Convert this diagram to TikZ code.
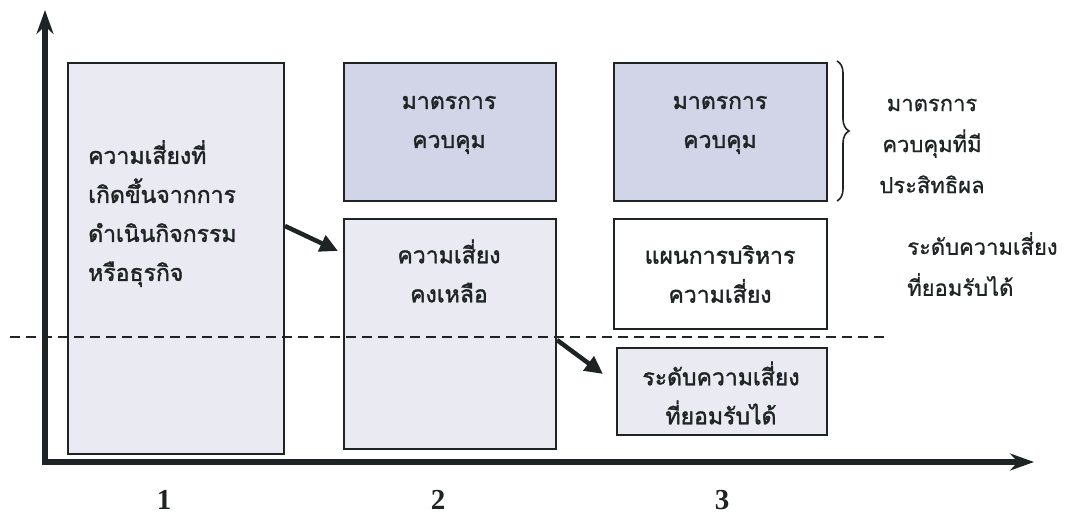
\documentclass[tikz,border=0pt]{standalone}
\usepackage{fontspec}
\newfontfamily\thai[Script=Thai,FakeBold=1.6]{Loma}
\newfontfamily\thair[Script=Thai,FakeBold=0.8]{Loma}
\newfontfamily\numfont{Liberation Serif}
\usetikzlibrary{arrows.meta,decorations.pathreplacing}
\definecolor{ink}{HTML}{1E2424}
\definecolor{darkfill}{HTML}{D2D4E7}
\definecolor{lightfill}{HTML}{E9EAF2}
\begin{document}
\begin{tikzpicture}[x=1pt,y=-1pt,
  box/.style={draw=ink,line width=1.8pt,anchor=north west,inner sep=0pt},
  btxt/.style={text=ink,font=\thai\fontsize{23}{39}\selectfont,align=center,inner sep=0pt},
  rtxt/.style={text=ink,font=\thair\fontsize{22}{41}\selectfont,inner sep=0pt},
  num/.style={text=ink,font=\numfont\bfseries\fontsize{29}{30}\selectfont,inner sep=0pt},
  axis/.style={ink,line width=5.5pt,-{Stealth[length=24pt,width=17pt,inset=8pt]}},
  flow/.style={ink,line width=4.5pt,-{Triangle[length=18pt,width=17pt]}}]
\useasboundingbox (0,0) rectangle (1089,519);
% boxes
\node[box,fill=lightfill,minimum width=216pt,minimum height=391pt] (b1) at (67,62) {};
\node[box,fill=darkfill,minimum width=212pt,minimum height=138pt] (b2t) at (343,62) {};
\node[box,fill=lightfill,minimum width=212pt,minimum height=230pt] (b2b) at (343,218) {};
\node[box,fill=darkfill,minimum width=213pt,minimum height=138pt] (b3t) at (613,62) {};
\node[box,fill=white,minimum width=213pt,minimum height=110pt] (b3m) at (613,218) {};
\node[box,fill=lightfill,minimum width=210pt,minimum height=87pt] (b3b) at (616,347) {};
% dashed line
\coordinate (dl) at (10,337);
\coordinate (dr) at (890,337);
\draw[ink,line width=2pt,dash pattern=on 10pt off 6pt] (dl) -- (dr);
% axes
\coordinate (o) at (45,462);
\coordinate (ytip) at (45,10);
\coordinate (xtip) at (1034,462);
\draw[axis] ([yshift=2.75pt]o) -- (ytip);
\draw[axis] ([xshift=-2.75pt]o) -- (xtip);
% box texts
\node[btxt,align=left,anchor=north west] (t1) at (88,140) {ความเสี่ยงที่\\เกิดขึ้นจากการ\\ดำเนินกิจกรรม\\หรือธุรกิจ};
\node[btxt] (t2t) at (449,125) {มาตรการ\\ควบคุม};
\node[btxt] (t2b) at (449,271) {ความเสี่ยง\\คงเหลือ};
\node[btxt] (t3t) at (720,125) {มาตรการ\\ควบคุม};
\node[btxt] (t3m) at (720,274) {แผนการบริหาร\\ความเสี่ยง};
\node[btxt] (t3b) at (721,393) {ระดับความเสี่ยง\\ที่ยอมรับได้};
% flow arrows
\coordinate (a1s) at (285,226);
\coordinate (a1e) at (338,251);
\coordinate (a2s) at (557,340);
\coordinate (a2e) at (603,374);
\draw[flow] (a1s) -- (a1e);
\draw[flow] (a2s) -- (a2e);
% brace
\coordinate (brt) at (837,61);
\coordinate (brb) at (837,201);
\draw[ink,line width=1.6pt,decorate,decoration={brace,amplitude=12pt}] (brt) -- (brb);
% right texts
\node[rtxt,align=center] (rt1) at (932,146) {มาตรการ\\ควบคุมที่มี\\ประสิทธิผล};
\node[rtxt,align=left,anchor=west] (rt2) at (907,264) {ระดับความเสี่ยง\\ที่ยอมรับได้};
% numbers
\node[num] (n1) at (164,500) {1};
\node[num] (n2) at (438,500) {2};
\node[num] (n3) at (722,500) {3};
\end{tikzpicture}
\end{document}
